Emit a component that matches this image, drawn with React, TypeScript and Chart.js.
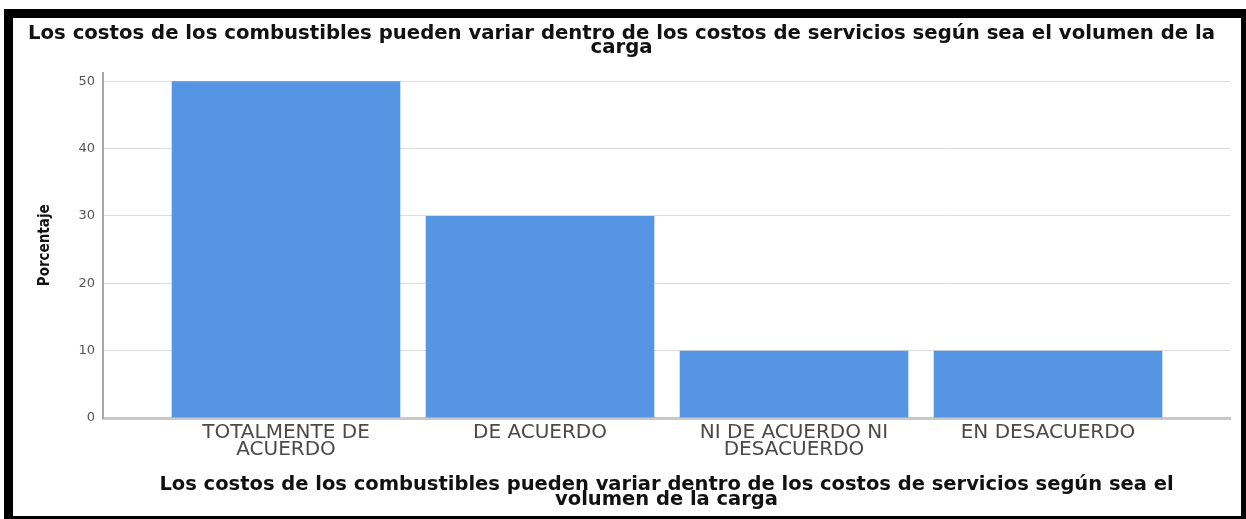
import React, { useEffect, useRef } from "react";
import { Chart, registerables } from "chart.js";

Chart.register(...registerables);

const categories: string[][] = [
  ["TOTALMENTE DE", "ACUERDO"],
  ["DE ACUERDO"],
  ["NI DE ACUERDO NI", "DESACUERDO"],
  ["EN DESACUERDO"],
];
const percentages: number[] = [50, 30, 10, 10];
const yTicks: number[] = [0, 10, 20, 30, 40, 50];
const chartTitle: string[] = [
  "Los costos de los combustibles pueden variar dentro de los costos de servicios según sea el volumen de la",
  "carga",
];
const xTitle: string[] = [
  "Los costos de los combustibles pueden variar dentro de los costos de servicios según sea el",
  "volumen de la carga",
];
const yTitle = "Porcentaje";

export default function App() {
  const ref = useRef<HTMLCanvasElement | null>(null);
  useEffect(() => {
    if (!ref.current) return;
    const chart = new Chart(ref.current, {
      type: "bar",
      data: {
        datasets: [
          {
            data: percentages.map((v, i) => ({ x: i, y: v })),
            backgroundColor: "#5595e4",
            borderWidth: 0,
            barPercentage: 0.9,
            categoryPercentage: 1,
          },
        ],
      },
      options: {
        responsive: false,
        animation: false,
        layout: { padding: { left: 0, right: 11, top: 0, bottom: 0 } },
        plugins: {
          legend: { display: false },
          tooltip: { enabled: false },
          title: {
            display: true,
            text: chartTitle,
            color: "#111",
            font: { family: "DejaVu Sans", weight: "bold", size: 19.7, lineHeight: 0.75 },
            padding: { top: 8, bottom: 17 },
          },
        },
        scales: {
          x: {
            type: "linear",
            offset: false,
            min: -0.7205,
            max: 3.7165,
            grid: { display: false, drawTicks: false },
            border: { display: true, color: "#c8c8c8", width: 3 },
            afterBuildTicks: (s: any) => {
              s.ticks = categories.map((_, i) => ({ value: i }));
            },
            afterFit: (s: any) => {
              s.height = 99;
            },
            ticks: {
              autoSkip: false,
              maxRotation: 0,
              minRotation: 0,
              padding: 6,
              color: "#4a4a4a",
              font: { family: "DejaVu Sans", size: 20, lineHeight: 0.85 },
              callback: (v: any) => categories[Math.round(Number(v))] ?? "",
            },
            title: {
              display: true,
              text: xTitle,
              color: "#111",
              font: { family: "DejaVu Sans", weight: "bold", size: 19.5, lineHeight: 0.8 },
              padding: { top: 0, bottom: 9 },
            },
          },
          y: {
            type: "linear",
            min: 0,
            max: 51.3,
            afterBuildTicks: (s: any) => {
              s.ticks = yTicks.map((v) => ({ value: v }));
            },
            afterFit: (s: any) => {
              s.width = 90;
            },
            grid: { color: "#dcdcdc", lineWidth: 1, drawTicks: false },
            border: { display: true, color: "#a8a8a8", width: 2 },
            ticks: {
              padding: 8,
              color: "#555",
              font: { family: "DejaVu Sans", size: 13 },
            },
            title: {
              display: true,
              text: yTitle,
              color: "#111",
              font: {
                family: "'Liberation Sans Narrow', 'DejaVu Sans Condensed', 'Liberation Sans', Arial, sans-serif",
                weight: "bold",
                size: 15,
                lineHeight: 1.2,
              },
              padding: { top: 23, bottom: 0 },
            },
          },
        },
      },
    });
    return () => chart.destroy();
  }, []);
  return (
    <div style={{ position: "fixed", inset: 0, overflow: "hidden", background: "#fff" }}>
      <div
        style={{
          position: "absolute",
          left: 4,
          top: 9,
          width: 1246,
          height: 516,
          border: "9px solid #000",
          boxSizing: "border-box",
          background: "#fff",
        }}
      >
        <canvas ref={ref} width={1228} height={499} style={{ display: "block" }} />
      </div>
    </div>
  );
}
